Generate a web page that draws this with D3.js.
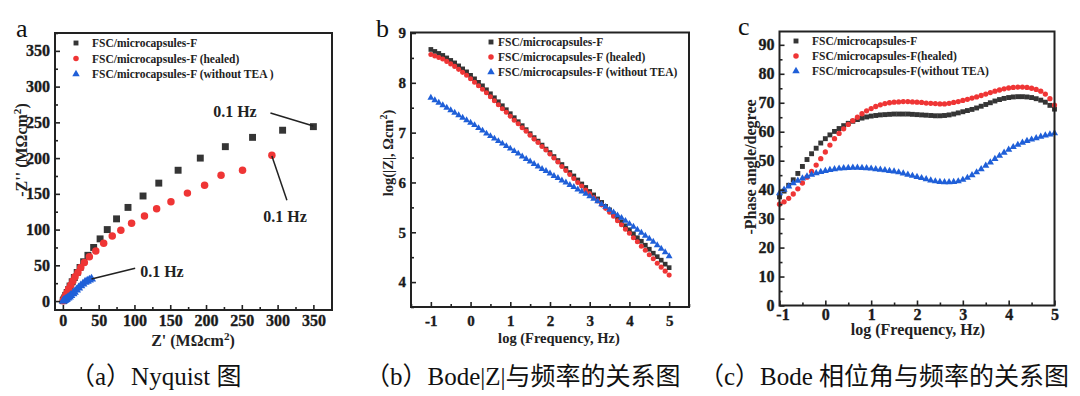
<!DOCTYPE html>
<html>
<head>
<meta charset="utf-8">
<script src="https://cdn.jsdelivr.net/npm/d3@7"></script>
<style>
  body { margin: 0; background: #fff; }
</style>
</head>
<body>
<svg id="chart" width="1080" height="396"></svg>
<script>
// ---- data ----
const seriesNames = ['FSC/microcapsules-F', 'FSC/microcapsules-F (healed)', 'FSC/microcapsules-F (without TEA )'];
const seriesNamesB = ['FSC/microcapsules-F', 'FSC/microcapsules-F (healed)', 'FSC/microcapsules-F (without TEA)'];
const seriesNamesC = ['FSC/microcapsules-F', 'FSC/microcapsules-F(healed)', 'FSC/microcapsules-F(without TEA)'];

// (a) Nyquist: [Z', -Z''] in MOhm cm2
const nyqBlack = [[350,244],[307,239],[265,229],[227,216],[192,200],[161,183],[134,165],[112,147],[91,131],[75,115],
  [62,100],[52,87],[43,75],[35,64],[29,55],[24,47],[20,40],[16,33],[13,27],[10,21],[8,16],[6,12],[4,8],[3,5],[2,3],[1,1.5],[0.5,0.5]];
const nyqRed = [[292,204],[251,183],[221,176],[198,162],[174,151],[151,139],[131,129],[114,119],[96,109],[81,99],
  [69,91],[57,81],[46,70],[37,62],[30,54],[25,47],[21,40],[17,34],[14,28],[11,22],[8,17],[6,12],[4,8],[3,5],[2,3],[1,1.5],[0.5,0.5]];
const nyqBlue = [[40,31],[37,29.5],[34,28],[31,26.5],[28,24],[25,21.5],[22,18.5],[19,15.5],[16,12.5],[14,10.5],
  [11,8],[9,6],[7,4.5],[5,3],[4,2.2],[3,1.5],[2,1],[1,0.5],[0.5,0.2]];
const nyqTicks = [0, 50, 100, 150, 200, 250, 300, 350];

// (b), (c) log frequency grid
const logFreq = [-1.0,-0.9,-0.8,-0.7,-0.6,-0.5,-0.4,-0.3,-0.2,-0.1,0.0,0.1,0.2,0.3,0.4,0.5,0.6,0.7,0.8,0.9,
  1.0,1.1,1.2,1.3,1.4,1.5,1.6,1.7,1.8,1.9,2.0,2.1,2.2,2.3,2.4,2.5,2.6,2.7,2.8,2.9,
  3.0,3.1,3.2,3.3,3.4,3.5,3.6,3.7,3.8,3.9,4.0,4.1,4.2,4.3,4.4,4.5,4.6,4.7,4.8,4.9,5.0];

// (b) log|Z|
const logZBlack = [8.67,8.63,8.59,8.55,8.50,8.45,8.40,8.34,8.28,8.22,8.15,8.08,8.01,7.94,7.86,7.78,7.70,7.62,7.54,7.46,
  7.38,7.30,7.22,7.14,7.06,6.98,6.90,6.83,6.75,6.67,6.60,6.52,6.44,6.36,6.28,6.20,6.13,6.05,5.97,5.90,
  5.82,5.75,5.67,5.60,5.52,5.45,5.37,5.29,5.21,5.13,5.05,4.97,4.89,4.82,4.74,4.66,4.58,4.51,4.44,4.36,4.29];
const logZRed = [8.57,8.54,8.51,8.48,8.43,8.38,8.33,8.27,8.21,8.15,8.08,8.01,7.94,7.87,7.80,7.72,7.64,7.56,7.48,7.41,
  7.33,7.25,7.18,7.10,7.03,6.95,6.87,6.80,6.72,6.65,6.57,6.49,6.41,6.32,6.24,6.16,6.08,6.00,5.93,5.85,
  5.78,5.70,5.63,5.55,5.48,5.40,5.32,5.23,5.15,5.06,4.98,4.89,4.81,4.72,4.64,4.55,4.47,4.38,4.30,4.22,4.14];
const logZBlue = [7.70,7.65,7.60,7.55,7.50,7.45,7.40,7.35,7.30,7.25,7.20,7.15,7.09,7.04,6.98,6.93,6.88,6.83,6.78,6.73,
  6.68,6.63,6.58,6.52,6.47,6.42,6.37,6.32,6.27,6.23,6.18,6.13,6.09,6.04,6.00,5.95,5.91,5.86,5.82,5.77,
  5.72,5.67,5.62,5.56,5.51,5.45,5.40,5.34,5.29,5.23,5.17,5.11,5.05,4.99,4.93,4.87,4.81,4.74,4.67,4.60,4.52];
const logZTicks = [4, 5, 6, 7, 8, 9];

// (c) -phase angle, degree
const phaseBlack = [37.5,39.5,41.5,43.4,45.6,48.0,50.4,52.4,54.3,56.1,57.6,58.9,60.1,61.1,62.1,62.9,63.6,64.2,64.7,65.1,
  65.4,65.6,65.8,65.9,66.0,66.1,66.1,66.1,66.1,66.0,65.9,65.8,65.7,65.6,65.5,65.5,65.6,65.8,66.1,66.5,
  66.9,67.3,67.7,68.2,68.8,69.4,70.0,70.6,71.1,71.5,71.8,72.0,72.1,72.1,72.0,71.8,71.4,70.9,70.2,69.1,67.8];
const phaseRed = [35.0,35.8,37.0,38.5,40.3,42.3,44.3,46.3,48.5,50.7,53.0,55.4,57.6,59.4,61.0,62.5,63.8,65.0,66.2,67.2,
  68.0,68.7,69.3,69.7,70.0,70.2,70.3,70.4,70.4,70.3,70.2,70.1,69.9,69.8,69.7,69.6,69.6,69.8,70.1,70.4,
  70.8,71.2,71.6,72.0,72.5,73.0,73.5,74.0,74.4,74.8,75.1,75.3,75.4,75.4,75.3,75.0,74.6,74.0,73.0,71.4,69.2];
const phaseBlue = [38.8,40.0,41.1,42.2,43.1,43.9,44.6,45.2,45.7,46.1,46.5,46.8,47.1,47.3,47.4,47.5,47.6,47.6,47.5,47.4,
  47.3,47.1,46.9,46.7,46.5,46.3,46.0,45.6,45.2,44.8,44.4,44.0,43.6,43.2,42.9,42.7,42.6,42.6,42.7,42.9,
  43.4,44.1,45.0,46.0,47.1,48.3,49.4,50.6,51.7,52.8,53.8,54.7,55.5,56.2,56.8,57.3,57.8,58.3,58.7,59.1,59.5];
const phaseTicks = [0, 10, 20, 30, 40, 50, 60, 70, 80, 90];
const freqTicks = [-1, 0, 1, 2, 3, 4, 5];

const captions = ['（a）Nyquist 图', '（b）Bode|Z|与频率的关系图', '（c）Bode 相位角与频率的关系图'];

// ---- drawing ----
const colors = ['#353535', '#ef3535', '#1f5fd8'];
const symbols = [d3.symbolSquare, d3.symbolCircle, d3.symbolTriangle];
const SERIF = '"Liberation Serif", "Times New Roman", serif';

const svg = d3.select('#chart');
svg.append('rect').attr('width', 1080).attr('height', 396).attr('fill', '#fff');

function minors(ticks, step, domain) {
  const out = [];
  for (let v = ticks[0] - step; v <= domain[1]; v += step) {
    if (v >= domain[0] && !ticks.some(t => Math.abs(t - v) < 1e-9)) out.push(v);
  }
  return out;
}

function drawPanel(p) {
  const g = svg.append('g');
  const x = d3.scaleLinear().domain(p.xDomain).range([p.left, p.right]);
  const y = d3.scaleLinear().domain(p.yDomain).range([p.bottom, p.top]);

  // series
  p.series.forEach((s, i) => {
    g.append('g').selectAll('path')
      .data(s)
      .join('path')
      .attr('transform', d => `translate(${x(d[0])},${y(d[1])})`)
      .attr('d', d3.symbol(symbols[i], p.sizes[i]))
      .attr('fill', colors[i]);
  });

  // axes (ticks inward)
  const fmt = d => String(d);
  const xa = g.append('g').attr('transform', `translate(0,${p.bottom})`)
    .call(d3.axisBottom(x).tickValues(p.xTicks).tickFormat(fmt).tickSizeInner(-5).tickSizeOuter(0).tickPadding(p.xPad));
  g.append('g').attr('transform', `translate(0,${p.bottom})`)
    .call(d3.axisBottom(x).tickValues(minors(p.xTicks, p.xMinor, p.xDomain)).tickSize(-3).tickFormat(''));
  const ya = g.append('g').attr('transform', `translate(${p.left},0)`)
    .call(d3.axisLeft(y).tickValues(p.yTicks).tickFormat(fmt).tickSizeInner(-5).tickSizeOuter(0).tickPadding(p.yPad));
  g.append('g').attr('transform', `translate(${p.left},0)`)
    .call(d3.axisLeft(y).tickValues(minors(p.yTicks, p.yMinor, p.yDomain)).tickSize(-3).tickFormat(''));
  g.selectAll('.domain').remove();
  g.selectAll('.tick line').attr('stroke', '#222').attr('stroke-width', 1.6);
  [xa, ya].forEach(a => {
    a.attr('font-family', SERIF).attr('font-size', p.tickFont).attr('font-weight', 'bold');
    a.selectAll('text')
      .style('font-family', SERIF)
      .style('font-weight', 700)
      .style('font-size', p.tickFont + 'px')
      .attr('fill', '#1a1a1a')
      .attr('stroke', '#1a1a1a')
      .attr('stroke-width', 0.35);
  });
  // nudge the first x label away from the y "0" label
  xa.selectAll('text').filter(d => d === p.xTicks[0]).attr('dx', p.firstDx || 0);

  // frame
  g.append('rect')
    .attr('x', p.left).attr('y', p.top)
    .attr('width', p.right - p.left).attr('height', p.bottom - p.top)
    .attr('fill', 'none').attr('stroke', '#222').attr('stroke-width', 2);

  // legend
  p.names.forEach((n, i) => {
    const ly = p.legend.y + i * p.legend.dy;
    g.append('path')
      .attr('transform', `translate(${p.legend.x},${ly})`)
      .attr('d', d3.symbol(symbols[i], 24))
      .attr('fill', colors[i]);
    g.append('text')
      .attr('x', p.legend.x + p.legend.gap).attr('y', ly + 4)
      .style('font-family', SERIF)
      .attr('font-size', 11.5).attr('font-weight', 'bold').attr('fill', '#222')
      .text(n);
  });

  // axis titles
  g.append('text')
    .attr('x', p.xTitle.x).attr('y', p.xTitle.y)
    .style('font-family', SERIF)
    .attr('text-anchor', 'middle').attr('font-size', p.titleFont).attr('font-weight', 'bold').attr('fill', '#222')
    .html(p.xTitle.text);
  g.append('text')
    .attr('transform', `translate(${p.yTitle.x},${p.yTitle.y}) rotate(-90)`)
    .style('font-family', SERIF)
    .attr('text-anchor', 'middle').attr('dy', '0.35em')
    .attr('font-size', p.titleFont).attr('font-weight', 'bold').attr('fill', '#222')
    .html(p.yTitle.text);

  // panel letter
  svg.append('text')
    .attr('x', p.letter.x).attr('y', p.letter.y)
    .style('font-family', SERIF)
    .attr('font-size', 26).attr('fill', '#111')
    .text(p.letter.text);

  return { x, y, g };
}

const zip = (xs, ys) => xs.map((v, i) => [v, ys[i]]);
const sup2 = '<tspan dy="-6" font-size="0.7em">2</tspan><tspan dy="6">)</tspan>';

// (a)
const pa = drawPanel({
  left: 55, right: 332, top: 33, bottom: 310,
  xDomain: [-11, 376], yDomain: [-12.5, 375],
  xTicks: nyqTicks, yTicks: nyqTicks, xMinor: 25, yMinor: 25,
  xPad: 5, yPad: 5, tickFont: 16, titleFont: 16,
  series: [nyqBlack, nyqRed, nyqBlue], sizes: [48, 44, 36],
  names: seriesNames, legend: { x: 76, y: 43, dy: 15.5, gap: 16 },
  xTitle: { x: 193, y: 346, text: "Z' (MΩcm" + sup2 },
  yTitle: { x: 21, y: 150, text: "-Z'' (MΩcm" + sup2 },
  letter: { x: 16, y: 37, text: 'a' }
});

// 0.1 Hz annotations in panel a (data coordinates)
const annots = [
  { label: [210, 257], from: [290, 263], to: [350, 245] },
  { label: [280, 110], from: [292, 203], to: [313, 141] },
  { label: [108, 34], from: [40, 31], to: [101, 46] }
];
annots.forEach(a => {
  pa.g.append('line')
    .attr('x1', pa.x(a.from[0])).attr('y1', pa.y(a.from[1]))
    .attr('x2', pa.x(a.to[0])).attr('y2', pa.y(a.to[1]))
    .attr('stroke', '#222').attr('stroke-width', 1.5);
  pa.g.append('text')
    .attr('x', pa.x(a.label[0])).attr('y', pa.y(a.label[1]))
    .style('font-family', SERIF)
    .attr('font-size', 16).attr('font-weight', 'bold').attr('fill', '#222')
    .text('0.1 Hz');
});

// (b)
drawPanel({
  left: 411, right: 689, top: 32.5, bottom: 307,
  xDomain: [-1.5, 5.5], yDomain: [3.5, 9.01],
  xTicks: freqTicks, yTicks: logZTicks, xPad: 8, yPad: 5, xMinor: 0.5, yMinor: 0.5,
  tickFont: 15, titleFont: 14.5,
  series: [zip(logFreq, logZBlack), zip(logFreq, logZRed), zip(logFreq, logZBlue)], sizes: [22, 20, 20],
  names: seriesNamesB, legend: { x: 491, y: 42, dy: 15, gap: 7 },
  xTitle: { x: 559, y: 343, text: 'log (Frequency, Hz)' },
  yTitle: { x: 388, y: 153, text: 'log(|Z|, Ωcm' + sup2 },
  letter: { x: 376, y: 37, text: 'b' }
});

// (c)
drawPanel({
  left: 779.5, right: 1054.5, top: 31.5, bottom: 305.5,
  xDomain: [-1, 5], yDomain: [0, 94.6],
  xTicks: freqTicks, yTicks: phaseTicks, xPad: 3, yPad: 5, xMinor: 0.5, yMinor: 5, firstDx: 3,
  tickFont: 16, titleFont: 16,
  series: [zip(logFreq, phaseBlack), zip(logFreq, phaseRed), zip(logFreq, phaseBlue)], sizes: [24, 22, 22],
  names: seriesNamesC, legend: { x: 796, y: 41, dy: 15, gap: 16 },
  xTitle: { x: 918, y: 335, text: 'log (Frequency, Hz)' },
  yTitle: { x: 750, y: 167, text: '-Phase angle/degree' },
  letter: { x: 738, y: 35, text: 'c' }
});

// captions
const capX = [70, 365, 699];
captions.forEach((c, i) => {
  svg.append('text')
    .attr('x', capX[i]).attr('y', 385)
    .style('font-family', '"Liberation Serif", "Noto Sans CJK SC", serif')
    .attr('font-size', 25).attr('fill', '#111')
    .text(c);
});
</script>
</body>
</html>
